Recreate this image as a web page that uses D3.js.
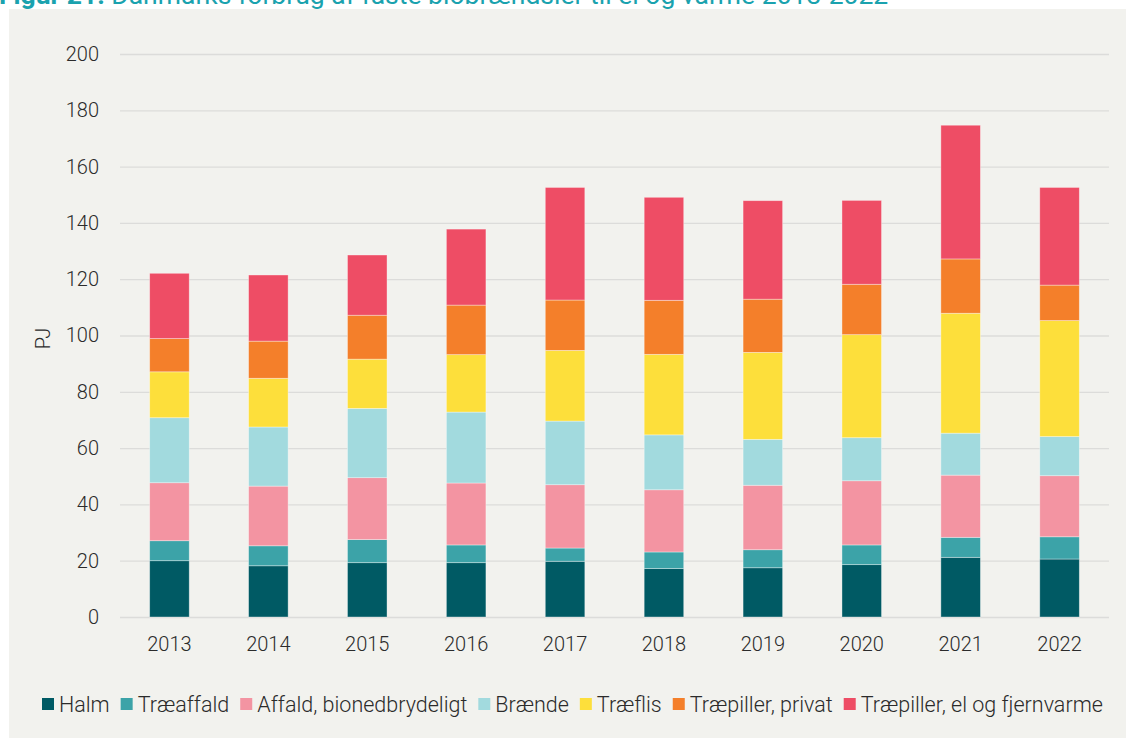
<!DOCTYPE html>
<html lang="da">
<head>
  <meta charset="UTF-8" />
  <title>Forbrug af faste biobrændsler</title>
  <script src="https://d3js.org/d3.v7.min.js"></script>
  <style>
    body { margin: 0; background: #fff; font-family: Roboto, "Noto Sans", sans-serif; }
    svg { display: block; }
    .tick text { font-size: 20px; font-weight: 300; fill: #2b2b2b; font-family: Roboto, sans-serif; }
    .legend text { font-size: 21.5px; font-weight: 300; fill: #2b2b2b; }
  </style>
</head>
<body>
<svg width="1126" height="738"></svg>
<script>
  const years = ["2013", "2014", "2015", "2016", "2017", "2018", "2019", "2020", "2021", "2022"];
  const categories = ["Halm", "Træaffald", "Affald, bionedbrydeligt", "Brænde", "Træflis", "Træpiller, privat", "Træpiller, el og fjernvarme"];
  const colors = ["#005a64", "#3ca3a8", "#f394a2", "#a2dade", "#fddf3b", "#f47f2a", "#ee4d65"];

  const halm      = [20.0, 18.2, 19.3, 19.3, 19.8, 17.2, 17.5, 18.6, 21.2, 20.6];
  const traeaffald = [7.1, 7.1, 8.2, 6.3, 4.7, 5.9, 6.4, 7.0, 7.1, 7.9];
  const affald    = [20.6, 21.2, 22.0, 22.0, 22.5, 22.1, 22.9, 22.8, 22.1, 21.7];
  const braende   = [23.1, 21.0, 24.6, 25.2, 22.6, 19.5, 16.3, 15.3, 14.9, 13.9];
  const traeflis  = [16.3, 17.3, 17.5, 20.4, 25.1, 28.6, 30.9, 36.6, 42.6, 41.2];
  const pillerPriv = [11.8, 13.2, 15.6, 17.6, 17.9, 19.2, 18.9, 17.9, 19.3, 12.6];
  const pillerEl  = [23.2, 23.5, 21.4, 27.0, 40.0, 36.6, 35.0, 29.8, 47.5, 34.7];
  const yTicks = [0, 20, 40, 60, 80, 100, 120, 140, 160, 180, 200];

  const series = [halm, traeaffald, affald, braende, traeflis, pillerPriv, pillerEl];
  const rows = years.map((yr, i) => {
    const r = { year: yr };
    categories.forEach((c, k) => r[c] = series[k][i]);
    return r;
  });

  const svg = d3.select("svg");

  // panel
  svg.append("rect").attr("x", 9).attr("y", 9).attr("width", 1117).attr("height", 729).attr("fill", "#f2f2ee");

  // title, cut off at the top like the source
  const title = svg.append("text").attr("x", -1).attr("y", 4)
    .attr("font-size", 26.5).attr("fill", "#1aa2ae");
  title.append("tspan").attr("font-weight", "bold").text("Figur 21: ");
  title.append("tspan").text("Danmarks forbrug af faste biobrændsler til el og varme 2013-2022");

  const plotLeft = 120, plotRight = 1109, plotTop = 54, plotBottom = 617;

  const x = d3.scaleBand().domain(years).range([plotLeft, plotRight]).paddingInner(0.6).paddingOuter(0.3);
  const y = d3.scaleLinear().domain([0, 200]).range([plotBottom, plotTop]);

  // gridlines + y axis
  const yAxis = svg.append("g")
    .attr("transform", `translate(${plotLeft},0)`)
    .call(d3.axisLeft(y).tickValues(yTicks).tickSize(-(plotRight - plotLeft)).tickPadding(21));
  yAxis.select(".domain").remove();
  yAxis.selectAll(".tick line").attr("stroke", "#dcdcda").attr("stroke-width", 1.3);

  // x axis labels
  const xAxis = svg.append("g")
    .attr("transform", `translate(0,${plotBottom})`)
    .call(d3.axisBottom(x).tickSize(0).tickPadding(20));
  xAxis.select(".domain").remove();

  svg.append("text")
    .attr("transform", `translate(50,${y(100) + 3}) rotate(-90)`)
    .attr("text-anchor", "middle")
    .attr("font-size", 20).attr("font-weight", 300).attr("fill", "#2b2b2b")
    .text("PJ");

  const stack = d3.stack().keys(categories)(rows);
  const color = d3.scaleOrdinal().domain(categories).range(colors);

  svg.append("g").selectAll("g")
    .data(stack)
    .join("g")
    .attr("fill", d => color(d.key))
    .selectAll("rect")
    .data(d => d)
    .join("rect")
    .attr("x", d => x(d.data.year))
    .attr("y", d => y(d[1]))
    .attr("width", x.bandwidth())
    .attr("height", d => y(d[0]) - y(d[1]))
    .attr("stroke", "#ffffff")
    .attr("stroke-opacity", 0.45)
    .attr("stroke-width", 0.8);

  // legend
  const legend = svg.append("g").attr("class", "legend").attr("transform", "translate(42,704)");
  let lx = 0;
  categories.forEach((c, i) => {
    const item = legend.append("g").attr("transform", `translate(${lx},0)`);
    item.append("rect").attr("x", 0).attr("y", -6).attr("width", 12).attr("height", 12).attr("fill", colors[i]);
    const t = item.append("text").attr("x", 17).attr("y", 7.5).text(c);
    lx += 17 + t.node().getComputedTextLength() + 11;
  });
</script>
</body>
</html>
